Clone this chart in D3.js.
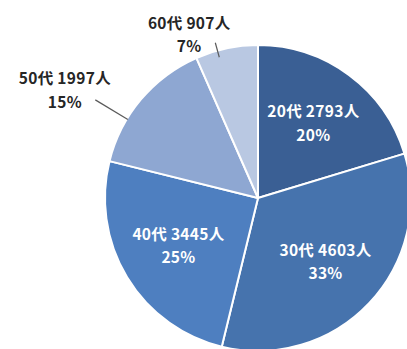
<!DOCTYPE html>
<html>
<head>
<meta charset="utf-8">
<script src="https://cdn.jsdelivr.net/npm/d3@7/dist/d3.min.js"></script>
<style>
  html, body { margin: 0; padding: 0; background: #fff; }
  svg { display: block; }
  text { font-family: "Noto Sans CJK JP", "Noto Sans", sans-serif; font-weight: bold; }
</style>
</head>
<body>
<svg id="chart" width="407" height="349"></svg>
<script>
// Age groups, head counts and the rounded shares printed in the labels
const ageGroups = ["20代", "30代", "40代", "50代", "60代"];
const headCounts = [2793, 4603, 3445, 1997, 907];
const shareLabels = ["20%", "33%", "25%", "15%", "7%"];
const sliceColors = ["#3a5f94", "#4673ad", "#4e7fc0", "#8ea7d2", "#b9c8e2"];

const width = 407, height = 349;
const cx = 258, cy = 198, radius = 153;

const svg = d3.select("#chart");
const g = svg.append("g").attr("transform", `translate(${cx},${cy})`);

const data = ageGroups.map((name, i) => ({ name, count: headCounts[i], share: shareLabels[i], color: sliceColors[i] }));

const pie = d3.pie().value(d => d.count).sort(null);
const arcs = pie(data);

const arc = d3.arc().innerRadius(0).outerRadius(radius);

g.selectAll("path.slice")
  .data(arcs)
  .join("path")
  .attr("class", "slice")
  .attr("d", arc)
  .attr("fill", d => d.data.color)
  .attr("stroke", "#fff")
  .attr("stroke-width", 2)
  .attr("stroke-linejoin", "round");

// polar helper: angle measured clockwise from 12 o'clock
const polar = (a, r) => [Math.sin(a) * r, -Math.cos(a) * r];
const mid = d => (d.startAngle + d.endAngle) / 2;
const deg = Math.PI / 180;

// Small slices get their label outside the pie with a leader line
const outside = {
  "50代": { shift: 11 * deg, labelR: 221, lineShift: 9 * deg, lineFrom: 190, lineTo: 152 },
  "60代": { shift: 11 * deg, labelR: 177, lineShift: 3.5 * deg, lineFrom: 161, lineTo: 146 }
};

const fontSize = 15.5;
const lineGap = 23.5;

arcs.forEach(d => {
  const o = outside[d.data.name];
  let x, y, fill;
  if (o) {
    [x, y] = polar(mid(d) - o.shift, o.labelR);
    fill = "#262626";
    const la = mid(d) - o.lineShift;
    const p1 = polar(la, o.lineFrom), p2 = polar(la, o.lineTo);
    g.append("line")
      .attr("x1", p1[0]).attr("y1", p1[1])
      .attr("x2", p2[0]).attr("y2", p2[1])
      .attr("stroke", "#5a5a5a").attr("stroke-width", 1.2);
  } else {
    [x, y] = polar(mid(d), 93);
    fill = "#ffffff";
  }
  const t = g.append("text")
    .attr("text-anchor", "middle")
    .attr("fill", fill)
    .attr("font-size", fontSize)
    .attr("letter-spacing", 0.3);
  t.append("tspan").attr("x", x).attr("y", y - lineGap / 2).attr("dy", "0.36em")
    .text(`${d.data.name} ${d.data.count}人`);
  t.append("tspan").attr("x", x).attr("y", y + lineGap / 2).attr("dy", "0.36em")
    .text(d.data.share);
});
</script>
</body>
</html>
